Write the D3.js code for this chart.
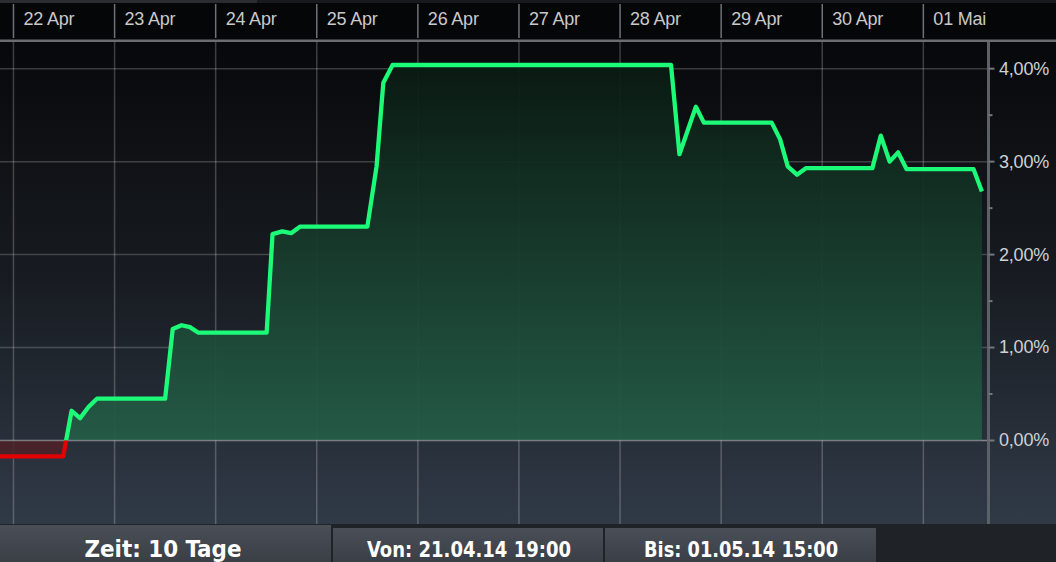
<!DOCTYPE html>
<html>
<head>
<meta charset="utf-8">
<script src="https://cdn.jsdelivr.net/npm/d3@7"></script>
<style>
  html, body { margin: 0; padding: 0; background: #1f2327; overflow: hidden; }
  svg { display: block; }
  .hdr text { font-family: "Liberation Sans", Arial, sans-serif; font-size: 18px; fill: #c9c9c9; letter-spacing: -0.2px; }
  .yax text { font-family: "Liberation Sans", Arial, sans-serif; font-size: 18px; fill: #cfd1d4; letter-spacing: -0.2px; }
  .tab text { font-family: "Liberation Sans Narrow", "DejaVu Sans Condensed", "Liberation Sans", sans-serif; font-weight: bold; fill: #fff; }
</style>
</head>
<body>
<svg id="chart" width="1056" height="562"></svg>
<script>
'use strict';
// performance over 10 days, values in percent
const times = [
  "2014-04-21 20:48", "2014-04-22 11:48", "2014-04-22 13:48", "2014-04-22 15:48",
  "2014-04-22 17:48", "2014-04-22 19:48", "2014-04-23 12:00", "2014-04-23 13:48",
  "2014-04-23 15:54", "2014-04-23 17:54", "2014-04-23 19:54", "2014-04-24 12:06",
  "2014-04-24 13:30", "2014-04-24 15:48", "2014-04-24 17:54", "2014-04-24 20:00",
  "2014-04-25 12:00", "2014-04-25 14:12", "2014-04-25 15:48", "2014-04-25 18:00",
  "2014-04-28 12:06", "2014-04-28 14:06", "2014-04-28 18:00", "2014-04-28 19:54",
  "2014-04-29 12:00", "2014-04-29 14:00", "2014-04-29 15:48", "2014-04-29 18:00",
  "2014-04-29 20:06", "2014-04-30 11:54", "2014-04-30 13:54", "2014-04-30 16:00",
  "2014-04-30 18:00", "2014-04-30 20:00", "2014-05-01 11:54", "2014-05-01 13:54"
];
const values = [
  -0.17, -0.17, 0.32, 0.24,
  0.36, 0.45, 0.45, 1.20,
  1.24, 1.22, 1.16, 1.16,
  2.22, 2.25, 2.23, 2.30,
  2.30, 2.95, 3.85, 4.04,
  4.04, 3.08, 3.59, 3.42,
  3.42, 3.24, 2.95, 2.86,
  2.93, 2.93, 3.28, 3.00,
  3.10, 2.92, 2.92, 2.68
];
const dayTicks = ["2014-04-22", "2014-04-23", "2014-04-24", "2014-04-25", "2014-04-26",
                  "2014-04-27", "2014-04-28", "2014-04-29", "2014-04-30", "2014-05-01"];
const dayLabels = ["22 Apr", "23 Apr", "24 Apr", "25 Apr", "26 Apr",
                   "27 Apr", "28 Apr", "29 Apr", "30 Apr", "01 Mai"];
const yTicks = [0, 1, 2, 3, 4];
const yMinor = [0.5, 1.5, 2.5, 3.5];
const tabTexts = ["Zeit: 10 Tage", "Von: 21.04.14 19:00", "Bis: 01.05.14 15:00"];

const width = 1056, height = 562;
const plotTop = 42, plotBottom = 524, axisX = 988.5;

const parseTime = d3.timeParse("%Y-%m-%d %H:%M");
const parseDay = d3.timeParse("%Y-%m-%d");
const data = times.map((t, i) => ({ t: parseTime(t), v: values[i] }));

const de = d3.formatLocale({ decimal: ",", thousands: ".", grouping: [3], currency: ["", " €"] });
const fmtPct = v => de.format(".2f")(v) + "%";

const x = d3.scaleTime()
  .domain([parseTime("2014-04-21 20:48"), parseTime("2014-05-01 15:28")])
  .range([0, axisX]);
const y = d3.scaleLinear().domain([0, 4]).range([440.5, 68.7]);

const svg = d3.select("#chart");
const defs = svg.append("defs");

// background gradient of the plot
const bg = defs.append("linearGradient").attr("id", "bg")
  .attr("gradientUnits", "userSpaceOnUse")
  .attr("x1", 0).attr("y1", plotTop).attr("x2", 0).attr("y2", plotBottom);
bg.append("stop").attr("offset", 0).attr("stop-color", "#07080a");
bg.append("stop").attr("offset", 0.5).attr("stop-color", "#181c22");
bg.append("stop").attr("offset", 1).attr("stop-color", "#303a47");

// green area gradient
const ga = defs.append("linearGradient").attr("id", "greenArea")
  .attr("gradientUnits", "userSpaceOnUse")
  .attr("x1", 0).attr("y1", y(4)).attr("x2", 0).attr("y2", y(0));
ga.append("stop").attr("offset", 0).attr("stop-color", "#0a1b12");
ga.append("stop").attr("offset", 1).attr("stop-color", "#245c47");

const tabGrad = defs.append("linearGradient").attr("id", "tabGrad")
  .attr("x1", 0).attr("y1", 0).attr("x2", 0).attr("y2", 1);
tabGrad.append("stop").attr("offset", 0).attr("stop-color", "#4a4f57");
tabGrad.append("stop").attr("offset", 1).attr("stop-color", "#3a3e45");

defs.append("clipPath").attr("id", "above")
  .append("rect").attr("x", 0).attr("y", 0).attr("width", width).attr("height", y(0));
defs.append("clipPath").attr("id", "below")
  .append("rect").attr("x", 0).attr("y", y(0)).attr("width", width).attr("height", height - y(0));

// plot background
svg.append("rect").attr("x", 0).attr("y", plotTop).attr("width", width)
  .attr("height", plotBottom - plotTop).attr("fill", "url(#bg)");

// header
svg.append("rect").attr("x", 0).attr("y", 0).attr("width", width).attr("height", plotTop)
  .attr("fill", "#050608");
svg.append("rect").attr("x", 0).attr("y", 0).attr("width", width).attr("height", 3)
  .attr("fill", "#17191c");
svg.append("rect").attr("x", 0).attr("y", 0).attr("width", 257).attr("height", 3)
  .attr("fill", "#2a2c30");
svg.append("rect").attr("x", 0).attr("y", 39.5).attr("width", width).attr("height", 2.5)
  .attr("fill", "#6b6d70");

const days = dayTicks.map(parseDay);
const hdr = svg.append("g").attr("class", "hdr");
hdr.selectAll("line").data(days).join("line")
  .attr("x1", d => x(d)).attr("x2", d => x(d))
  .attr("y1", 4).attr("y2", 38)
  .attr("stroke", "#6f7174").attr("stroke-width", 1.5);
hdr.selectAll("text").data(days).join("text")
  .attr("x", d => x(d) + 10).attr("y", 24.5)
  .text((d, i) => dayLabels[i]);

// grid
const grid = svg.append("g");
grid.selectAll(".vg").data(days).join("line").attr("class", "vg")
  .attr("x1", d => x(d)).attr("x2", d => x(d))
  .attr("y1", plotTop).attr("y2", plotBottom)
  .attr("stroke", "#ffffff").attr("stroke-opacity", 0.22).attr("stroke-width", 1.5);
grid.selectAll(".hg").data(yTicks).join("line").attr("class", "hg")
  .attr("x1", 0).attr("x2", axisX)
  .attr("y1", d => y(d)).attr("y2", d => y(d))
  .attr("stroke", "#ffffff").attr("stroke-opacity", 0.2).attr("stroke-width", 1.5);

// areas
const area = d3.area().x(d => x(d.t)).y0(y(0)).y1(d => y(d.v));
svg.append("path").datum(data).attr("d", area)
  .attr("clip-path", "url(#above)").attr("fill", "url(#greenArea)").attr("fill-opacity", 0.95);
svg.append("path").datum(data).attr("d", area)
  .attr("clip-path", "url(#below)").attr("fill", "#4b2229").attr("fill-opacity", 0.9);

// zero line on top of area
svg.append("line").attr("x1", 0).attr("x2", axisX).attr("y1", y(0)).attr("y2", y(0))
  .attr("stroke", "#ffffff").attr("stroke-opacity", 0.28).attr("stroke-width", 1.5);

// lines
const line = d3.line().x(d => x(d.t)).y(d => y(d.v));
svg.append("path").datum(data).attr("d", line)
  .attr("clip-path", "url(#above)").attr("fill", "none")
  .attr("stroke", "#1cfb78").attr("stroke-width", 4.3)
  .attr("stroke-linejoin", "round").attr("stroke-linecap", "butt");
svg.append("path").datum(data).attr("d", line)
  .attr("clip-path", "url(#below)").attr("fill", "none")
  .attr("stroke", "#e20000").attr("stroke-width", 4.3)
  .attr("stroke-linejoin", "round").attr("stroke-linecap", "butt");

// right axis
const yax = svg.append("g").attr("class", "yax");
yax.append("line").attr("x1", axisX).attr("x2", axisX).attr("y1", plotTop).attr("y2", plotBottom)
  .attr("stroke", "#5c6067").attr("stroke-width", 3);
yax.selectAll(".tk").data(yTicks).join("line").attr("class", "tk")
  .attr("x1", axisX).attr("x2", axisX + 6)
  .attr("y1", d => y(d)).attr("y2", d => y(d))
  .attr("stroke", "#73767b").attr("stroke-width", 2);
yax.selectAll(".mk").data(yMinor).join("line").attr("class", "mk")
  .attr("x1", axisX).attr("x2", axisX + 4)
  .attr("y1", d => y(d)).attr("y2", d => y(d))
  .attr("stroke", "#73767b").attr("stroke-width", 2);
yax.selectAll("text").data(yTicks).join("text")
  .attr("x", 999).attr("y", d => y(d)).attr("dy", "0.33em")
  .text(d => fmtPct(d));

// bottom tabs
svg.append("rect").attr("x", 0).attr("y", plotBottom).attr("width", width)
  .attr("height", height - plotBottom).attr("fill", "#1f2327");
const tabs = [
  { x0: 0, x1: 331, y0: 525, size: 23.5, tx: 163, tw: 157 },
  { x0: 333, x1: 603, y0: 528, size: 20.5, tx: 469, tw: 204 },
  { x0: 605, x1: 876, y0: 528, size: 20.5, tx: 741, tw: 194 }
];
const tab = svg.append("g").attr("class", "tab");
tab.selectAll("rect").data(tabs).join("rect")
  .attr("x", d => d.x0).attr("y", d => d.y0)
  .attr("width", d => d.x1 - d.x0).attr("height", d => height - d.y0)
  .attr("fill", "url(#tabGrad)");
tab.selectAll("text").data(tabs).join("text")
  .attr("x", d => d.tx).attr("y", 557)
  .attr("text-anchor", "middle")
  .attr("font-size", d => d.size + "px")
  .attr("textLength", d => d.tw).attr("lengthAdjust", "spacingAndGlyphs")
  .text((d, i) => tabTexts[i]);
</script>
</body>
</html>
